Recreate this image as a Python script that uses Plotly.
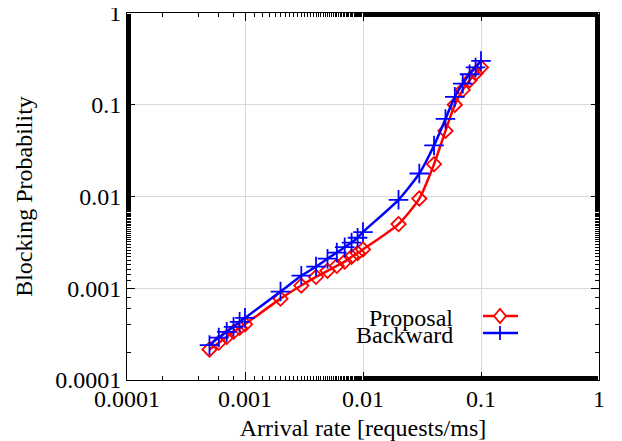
import plotly.graph_objects as go

arrival = [0.0005, 0.0006, 0.0007, 0.0008, 0.0009, 0.001, 0.002, 0.003, 0.004, 0.005,
           0.006, 0.007, 0.008, 0.009, 0.01, 0.02, 0.03, 0.04, 0.05, 0.06, 0.07, 0.08, 0.09, 0.1]
proposal = [2.15e-4, 2.55e-4, 2.95e-4, 3.35e-4, 3.7e-4, 4.05e-4, 7.7e-4, 1.07e-3, 1.33e-3, 1.55e-3,
            1.75e-3, 1.95e-3, 2.2e-3, 2.42e-3, 2.65e-3, 5.0e-3, 9.5e-3, 0.0225, 0.052, 0.10,
            0.145, 0.185, 0.22, 0.255]
backward = [2.4e-4, 2.9e-4, 3.35e-4, 3.8e-4, 4.3e-4, 4.75e-4, 9.2e-4, 1.37e-3, 1.72e-3, 2.1e-3,
            2.45e-3, 2.8e-3, 3.15e-3, 3.55e-3, 4.1e-3, 9.2e-3, 0.0178, 0.036, 0.07, 0.122,
            0.17, 0.215, 0.255, 0.30]
tick_vals = [0.0001, 0.001, 0.01, 0.1, 1]
tick_text = ["0.0001", "0.001", "0.01", "0.1", "1"]

RED = "#ff0000"
BLUE = "#0000ff"
FONT = "Liberation Serif"
FS = 24

fig = go.Figure()
fig.add_trace(go.Scatter(
    x=arrival, y=proposal, mode="lines+markers", name="Proposal",
    line=dict(color=RED, width=2.5, shape="spline", smoothing=0.6),
    marker=dict(symbol="diamond-open", size=11, color=RED, line=dict(color=RED, width=1.8)),
))
fig.add_trace(go.Scatter(
    x=arrival, y=backward, mode="lines+markers", name="Backward",
    line=dict(color=BLUE, width=2.5, shape="spline", smoothing=0.6),
    marker=dict(symbol="cross-thin", size=14, color=BLUE, line=dict(color=BLUE, width=1.8)),
))

axis_common = dict(
    type="log", showline=True, linecolor="black", linewidth=1, mirror="allticks",
    ticks="inside", ticklen=8, tickcolor="black", tickwidth=1,
    showgrid=True, gridcolor="#d9d9d9", gridwidth=1, zeroline=False,
    tickvals=tick_vals, ticktext=tick_text, automargin=False,
    ticklabeloverflow="allow",
    tickfont=dict(family=FONT, size=FS, color="black"),
    minor=dict(ticks="inside", ticklen=4, tickcolor="black", showgrid=False),
)

# page body has an 8px margin, so the figure is sized/shifted to compensate
W, H = 614, 433
ML, MR, MT, MB = 119, 23, 5, 61

fig.update_layout(
    width=W, height=H,
    paper_bgcolor="white", plot_bgcolor="white",
    margin=dict(l=ML, r=MR, t=MT, b=MB, autoexpand=False),
    showlegend=False,
    font=dict(family=FONT, size=FS, color="black"),
    xaxis=dict(axis_common, range=[-4, 0], ticklabelstandoff=-3,
               title=dict(text="Arrival rate [requests/ms]", font=dict(family=FONT, size=FS))),
    yaxis=dict(axis_common, range=[-4, 0],
               title=dict(text="Blocking Probability", font=dict(family=FONT, size=FS))),
)

# manual gnuplot-style key: text then sample (positions in screen px of the 622x441 view)
def px(x):
    return (x - 127) / 472.0

def py(y):
    return (380 - y) / 367.0

shapes = []
shapes.append(dict(type="line", xref="paper", yref="paper", x0=px(483), x1=px(518), y0=py(316), y1=py(316),
                   line=dict(color=RED, width=2.5)))
cx, cy = 500, 316
path = "M {} {} L {} {} L {} {} L {} {} Z".format(px(cx - 6), py(cy), px(cx), py(cy - 7), px(cx + 6), py(cy), px(cx), py(cy + 7))
shapes.append(dict(type="path", xref="paper", yref="paper", path=path, fillcolor="white",
                   line=dict(color=RED, width=1.8)))
shapes.append(dict(type="line", xref="paper", yref="paper", x0=px(483), x1=px(518), y0=py(333), y1=py(333),
                   line=dict(color=BLUE, width=2.5)))
shapes.append(dict(type="line", xref="paper", yref="paper", x0=px(500), x1=px(500), y0=py(326), y1=py(340),
                   line=dict(color=BLUE, width=1.8)))
fig.update_layout(shapes=shapes)

fig.add_annotation(x=px(455), y=py(318), xref="paper", yref="paper", text="Proposal", showarrow=False,
                   xanchor="right", yanchor="middle", font=dict(family=FONT, size=FS, color="black"))
fig.add_annotation(x=px(455), y=py(335), xref="paper", yref="paper", text="Backward", showarrow=False,
                   xanchor="right", yanchor="middle", font=dict(family=FONT, size=FS, color="black"))

fig.write_html("out.html")
